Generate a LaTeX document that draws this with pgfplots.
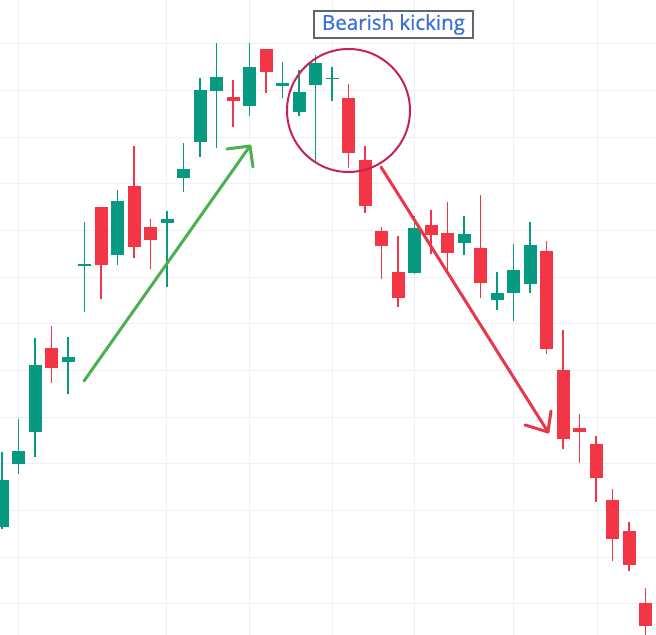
\documentclass[border=0pt]{standalone}
\usepackage{pgfplots}
\usepackage{pgfplotstable}
\pgfplotsset{compat=1.18}
\usepackage{fontspec}
\setmainfont{Open Sans}
\newfontfamily\lblfont[FakeBold=0.8]{Open Sans}
\definecolor{bull}{HTML}{089981}
\definecolor{bear}{HTML}{F23645}
\definecolor{gridc}{HTML}{EEF0F4}
\definecolor{upar}{HTML}{4CAF50}
\definecolor{dnar}{HTML}{E8374A}
\definecolor{circ}{HTML}{C8205A}
\definecolor{lblue}{HTML}{3A6FD8}
\definecolor{boxg}{HTML}{5F6670}

% x open high low close  (bullish candles)
\pgfplotstableread{
x     o    h    l    c
2     108  183  106  155
18.5  171  216  161  184
35    203  297  178  270
68    273  298  241  278
84.5  369  413  323  371
117.5 380  445  370  434
167   412  424  348  416
183.5 457  492  443  466
200   493  557  478  545
216.5 544  592  487  558
249.5 529  592  519  568
282.5 549  573  537  552
299   523  565  519  543
315.5 550  580  473  572
332   556  568  534  557.2
414.5 362  419  361  407
464   392  419  380  401
497   335  363  325  342
513.5 342  391  314  365
530   351  413  342  390
}\bulltab

% x open high low close  (bearish candles)
\pgfplotstableread{
x     o    h    l    c
51.5  287  309  252  267
101   428  428  336  370
134   449  489  377  388
150.5 408  416  366  395
233   538  555  508  534
266   586  586  542  563
348.5 537  551  467  482
365   475  489  422  429
381.5 404  408  356  389
398   363  399  328  337
431   410  425  381  400
447.5 402  433  365  382
480.5 387  440  337  352
546.5 384  394  281  286
563   265  305  186  196
579.5 207  221  172  203
596   191  199  133  157
612.5 135  146  74   96
629   104  113  64   70
645.5 32   47   -5   9
}\beartab

\pgfplotsset{candle/.style={only marks, mark=*, mark size=0pt,
  mark options={draw=none, fill=none}, forget plot,
  error bars/.cd, y dir=plus, y explicit, error mark=none}}

\begin{document}
\begin{tikzpicture}
\begin{axis}[
  scale only axis, width=656bp, height=635bp,
  xmin=0, xmax=656, ymin=0, ymax=635,
  axis line style={draw=none}, ticks=none, clip=true,
]
% grid
\pgfplotsinvokeforeach{18,166,249,332,414,513,597}{
  \draw[gridc, line width=0.8bp] (axis cs:#1,0) -- (axis cs:#1,635);
}
\pgfplotsinvokeforeach{592,545,498,452,405,358,312,265,218,172,125,78,32}{
  \draw[gridc, line width=0.8bp] (axis cs:0,#1) -- (axis cs:656,#1);
}
% wicks
\addplot[candle, error bar style={bull, line width=1.3bp}]
  table[x=x, y=l, y error expr={\thisrow{h}-\thisrow{l}}] {\bulltab};
\addplot[candle, error bar style={bear, line width=1.3bp}]
  table[x=x, y=l, y error expr={\thisrow{h}-\thisrow{l}}] {\beartab};
% bodies
\addplot[candle, error bar style={bull, line width=13bp}]
  table[x=x, y=o, y error expr={\thisrow{c}-\thisrow{o}}] {\bulltab};
\addplot[candle, error bar style={bear, line width=13bp}]
  table[x=x, y=c, y error expr={\thisrow{o}-\thisrow{c}}] {\beartab};
% annotations
\draw[upar, line width=3bp, line cap=round, line join=round]
  (axis cs:84,254) -- (axis cs:250,489);
\draw[upar, line width=3bp, line cap=round, line join=round]
  (axis cs:227,486) -- (axis cs:250,489) -- (axis cs:253,468);
\draw[dnar, line width=3bp, line cap=round, line join=round]
  (axis cs:381,468) -- (axis cs:548,203);
\draw[dnar, line width=3bp, line cap=round, line join=round]
  (axis cs:525,210) -- (axis cs:548,203) -- (axis cs:551,224);
\draw[circ, line width=2bp] (axis cs:348.5,524.5) circle[radius=61.5];
\node[draw=boxg, line width=2bp, fill=white, text=lblue,
  minimum width=159bp, minimum height=27bp, inner sep=0pt,
  font=\lblfont\fontsize{20.5bp}{22bp}\selectfont]
  at (axis cs:393.5,610.5) {Bearish kicking};
\end{axis}
\end{tikzpicture}
\end{document}
